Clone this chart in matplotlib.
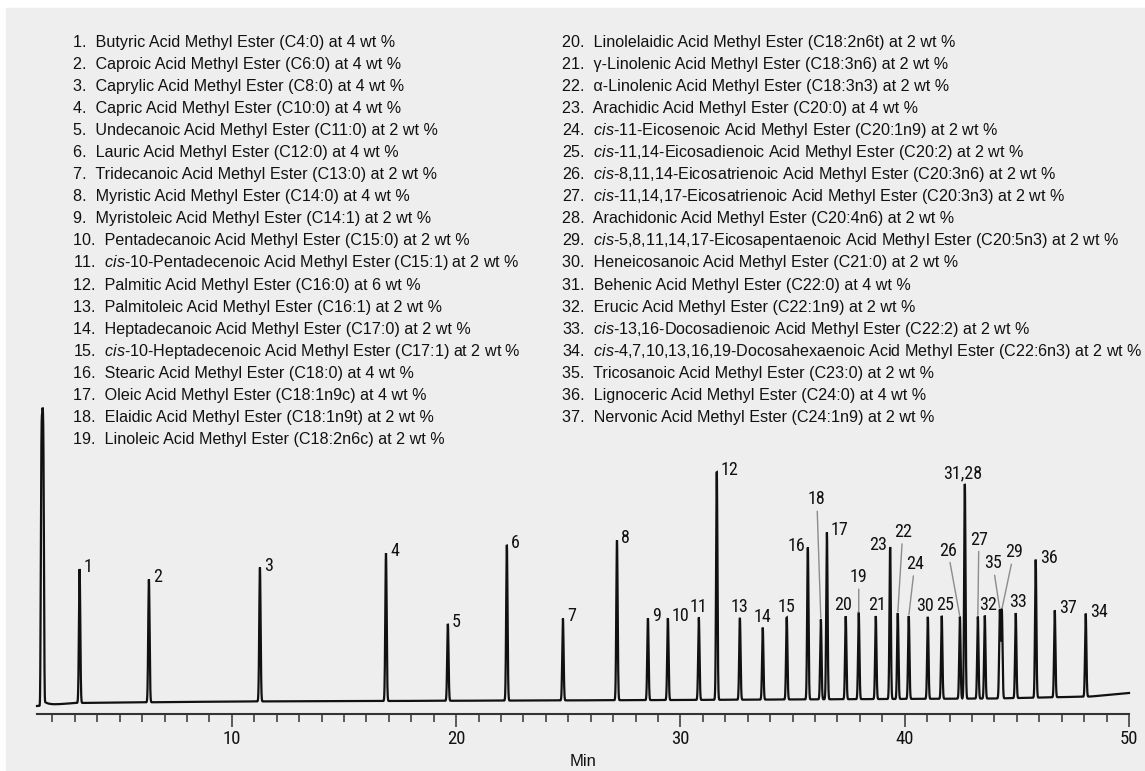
import numpy as np
import matplotlib.pyplot as plt
from matplotlib import font_manager
from matplotlib.patches import Rectangle
from matplotlib.ticker import MultipleLocator

plt.rcParams['mathtext.fontset'] = 'custom'
plt.rcParams['mathtext.rm'] = 'Liberation Sans'
plt.rcParams['mathtext.it'] = 'Liberation Sans:italic'

W, H = 1145, 771

# peak table (time in min, height in detector units)
peak_labels = ['1', '2', '3', '4', '5', '6', '7', '8', '9', '10', '11', '12', '13', '14',
               '15', '16', '18', '17', '20', '19', '21', '23', '22', '24', '30', '25',
               '26', '31,28', '27', '32', '35', '29', '33', '36', '37', '34']
ret_times = [3.21, 6.30, 11.25, 16.87, 19.63, 22.26, 24.76, 27.17, 28.55, 29.44,
             30.82, 31.62, 32.65, 33.67, 34.74, 35.68, 36.26, 36.53, 37.37, 37.95,
             38.71, 39.35, 39.69, 40.18, 41.03, 41.65, 42.46, 42.68, 43.26, 43.57,
             44.24, 44.33, 44.95, 45.84, 46.69, 48.07]
heights = [134, 123, 134, 148, 77, 156, 82, 160, 82, 82,
           82, 228, 82, 72, 82, 152, 80, 167, 83, 86,
           83, 152, 86, 83, 82, 83, 82, 215, 82, 83,
           88, 88, 85, 138, 87, 83]
solvent_time = 1.55
solvent_height = 292
base_t = [1.31, 3.0, 10, 30, 44, 48.3, 50.0]
base_y = [-6, -3, -1.5, 0, 1.5, 3.5, 7]

left_items = [
    "Butyric Acid Methyl Ester (C4:0) at 4 wt %",
    "Caproic Acid Methyl Ester (C6:0) at 4 wt %",
    "Caprylic Acid Methyl Ester (C8:0) at 4 wt %",
    "Capric Acid Methyl Ester (C10:0) at 4 wt %",
    "Undecanoic Acid Methyl Ester (C11:0) at 2 wt %",
    "Lauric Acid Methyl Ester (C12:0) at 4 wt %",
    "Tridecanoic Acid Methyl Ester (C13:0) at 2 wt %",
    "Myristic Acid Methyl Ester (C14:0) at 4 wt %",
    "Myristoleic Acid Methyl Ester (C14:1) at 2 wt %",
    "Pentadecanoic Acid Methyl Ester (C15:0) at 2 wt %",
    r"$\mathit{cis}$-10-Pentadecenoic Acid Methyl Ester (C15:1) at 2 wt %",
    "Palmitic Acid Methyl Ester (C16:0) at 6 wt %",
    "Palmitoleic Acid Methyl Ester (C16:1) at 2 wt %",
    "Heptadecanoic Acid Methyl Ester (C17:0) at 2 wt %",
    r"$\mathit{cis}$-10-Heptadecenoic Acid Methyl Ester (C17:1) at 2 wt %",
    "Stearic Acid Methyl Ester (C18:0) at 4 wt %",
    "Oleic Acid Methyl Ester (C18:1n9c) at 4 wt %",
    "Elaidic Acid Methyl Ester (C18:1n9t) at 2 wt %",
    "Linoleic Acid Methyl Ester (C18:2n6c) at 2 wt %",
]
right_items = [
    "Linolelaidic Acid Methyl Ester (C18:2n6t) at 2 wt %",
    "γ-Linolenic Acid Methyl Ester (C18:3n6) at 2 wt %",
    "α-Linolenic Acid Methyl Ester (C18:3n3) at 2 wt %",
    "Arachidic Acid Methyl Ester (C20:0) at 4 wt %",
    r"$\mathit{cis}$-11-Eicosenoic Acid Methyl Ester (C20:1n9) at 2 wt %",
    r"$\mathit{cis}$-11,14-Eicosadienoic Acid Methyl Ester (C20:2) at 2 wt %",
    r"$\mathit{cis}$-8,11,14-Eicosatrienoic Acid Methyl Ester (C20:3n6) at 2 wt %",
    r"$\mathit{cis}$-11,14,17-Eicosatrienoic Acid Methyl Ester (C20:3n3) at 2 wt %",
    "Arachidonic Acid Methyl Ester (C20:4n6) at 2 wt %",
    r"$\mathit{cis}$-5,8,11,14,17-Eicosapentaenoic Acid Methyl Ester (C20:5n3) at 2 wt %",
    "Heneicosanoic Acid Methyl Ester (C21:0) at 2 wt %",
    "Behenic Acid Methyl Ester (C22:0) at 4 wt %",
    "Erucic Acid Methyl Ester (C22:1n9) at 2 wt %",
    r"$\mathit{cis}$-13,16-Docosadienoic Acid Methyl Ester (C22:2) at 2 wt %",
    r"$\mathit{cis}$-4,7,10,13,16,19-Docosahexaenoic Acid Methyl Ester (C22:6n3) at 2 wt %",
    "Tricosanoic Acid Methyl Ester (C23:0) at 2 wt %",
    "Lignoceric Acid Methyl Ester (C24:0) at 4 wt %",
    "Nervonic Acid Methyl Ester (C24:1n9) at 2 wt %",
]

# label placement in pixels: (dx, dy, ha, va, leader line)
R = (4, 2, 'left', 'center', False)
place = {lab: R for lab in peak_labels}
for lab, dx in [('11', 0), ('13', 0), ('14', 0), ('15', 0), ('20', -3), ('21', 1),
                ('30', -3), ('25', 3), ('32', 3), ('33', 2), ('31,28', -2)]:
    place[lab] = (dx, 11, 'center', 'center', False)
place['16'] = (-3, 2, 'right', 'center', False)
place['23'] = (-3, 2, 'right', 'center', False)
place['18'] = (-4, 120, 'center', 'center', True)
place['19'] = (0, 36, 'center', 'center', True)
place['22'] = (5, 81, 'center', 'center', True)
place['24'] = (6, 52, 'center', 'center', True)
place['26'] = (-12, 66, 'center', 'center', True)
place['27'] = (1, 77, 'center', 'center', True)
place['35'] = (-7, 46, 'center', 'center', True)
place['29'] = (12, 57, 'center', 'center', True)

# condensed face for the peak numbers if one is around
installed = {f.name for f in font_manager.fontManager.ttflist}
narrow, nsize = 'Liberation Sans', 11.5
for cand in ['Liberation Sans Narrow', 'Roboto Condensed', 'Open Sans Condensed',
             'Noto Sans Condensed', 'DejaVu Sans Condensed']:
    if cand in installed:
        narrow, nsize = cand, 13
        break

fig = plt.figure(figsize=(W / 100, H / 100), dpi=100)
fig.patches.append(Rectangle((6 / W, 0), 1, 1 - 8 / H, transform=fig.transFigure,
                             color='#eeeeee', zorder=-10))

x0_px, x1_px = 37, 1129
ax = fig.add_axes([x0_px / W, (H - 714) / H, (x1_px - x0_px) / W, 314 / H])
ax.patch.set_visible(False)
ax.set_xlim(1.31, 50.0)
ax.set_ylim(-14, 300)

t = np.linspace(1.31, 50.0, 14000)
trace = np.interp(t, base_t, base_y)
for rt, h in zip(ret_times, heights):
    trace += h * np.exp(-0.5 * ((t - rt) / 0.03) ** 2)
# solvent front: narrow flat-topped peak with a short tail
trace += solvent_height * np.exp(-0.5 * (np.abs(t - solvent_time) / 0.065) ** 4)
tail = t > solvent_time
trace[tail] += 6 * np.exp(-(t[tail] - solvent_time) / 0.2)
ax.plot(t, trace, color='#111111', lw=1.6, solid_joinstyle='miter', clip_on=False)

px = 0.72
for lab, rt in zip(peak_labels, ret_times):
    top = np.interp(rt, t, trace)
    dx, dy, ha, va, leader = place[lab]
    kw = {}
    if leader:
        kw['arrowprops'] = dict(arrowstyle='-', color='#8c8c8c', lw=1.0,
                                shrinkA=0, shrinkB=1)
    ax.annotate(lab, xy=(rt, top), xytext=(dx * px, dy * px), textcoords='offset points',
                ha=ha, va=va, fontsize=nsize, family=narrow, color='#111111', **kw)

for side in ['left', 'right', 'top']:
    ax.spines[side].set_visible(False)
ax.spines['bottom'].set_linewidth(1.5)
ax.spines['bottom'].set_color('#333333')
ax.set_yticks([])
ax.xaxis.set_major_locator(MultipleLocator(10))
ax.xaxis.set_minor_locator(MultipleLocator(1))
ax.tick_params(axis='x', which='major', length=9.5, width=1.1, color='#333333', pad=2,
               labelsize=nsize + 0.5, labelcolor='#111111')
ax.tick_params(axis='x', which='minor', length=5.5, width=1.1, color='#333333')
for lbl in ax.get_xticklabels():
    lbl.set_family(narrow)
ax.set_xlabel('Min', fontsize=12, family='Liberation Sans', color='#111111', labelpad=4)

row = 22.1
for i, name in enumerate(left_items):
    fig.text(73 / W, 1 - (42 + i * row) / H, f"{i + 1}.  {name}", ha='left', va='center',
             fontsize=11.6, family='Liberation Sans', color='#111111')
for i, name in enumerate(right_items):
    fig.text(562 / W, 1 - (42 + i * row) / H, f"{i + 20}.  {name}", ha='left', va='center',
             fontsize=11.6, family='Liberation Sans', color='#111111')

fig.savefig('out.png', dpi=100)
